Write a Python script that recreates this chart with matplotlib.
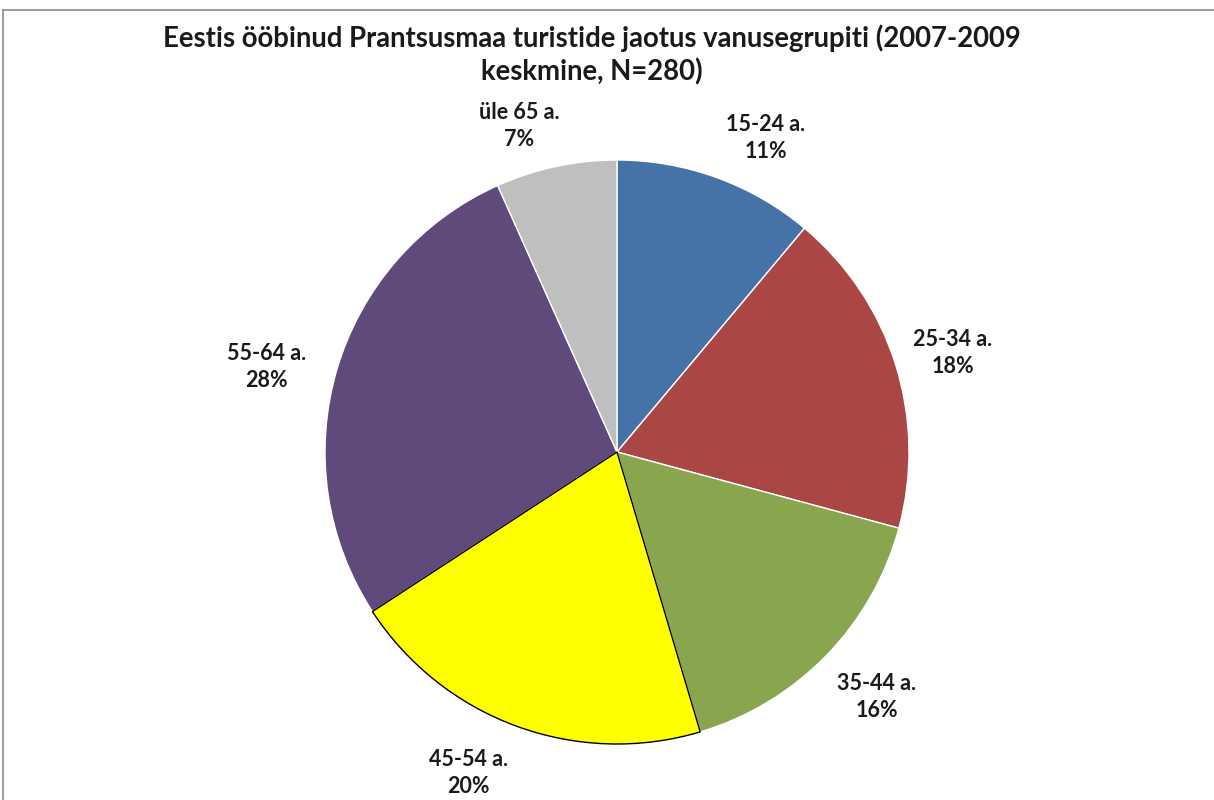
import matplotlib.pyplot as plt
from matplotlib.lines import Line2D

# age groups and shares (%)
groups = ["15-24 a.", "25-34 a.", "35-44 a.", "45-54 a.", "55-64 a.", "üle 65 a."]
shares = [11.1, 18.1, 16.2, 20.4, 27.5, 6.7]
colors = ["#4572A7", "#AA4643", "#89A54E", "#FFFF00", "#604A7B", "#BFBFBF"]

# label placement (in pie radius units), like Excel's outside labels
label_pos = [(0.51, 1.075), (1.15, 0.34), (0.89, -0.84),
             (-0.51, -1.10), (-1.20, 0.29), (-0.335, 1.115)]

plt.rcParams['font.family'] = ['Lato', 'DejaVu Sans']

fig = plt.figure(figsize=(12.14, 8), dpi=100)
cx, cy, R = 617, 452, 292
ax = fig.add_axes([(cx - R) / 1214, (800 - cy - R) / 800, 2 * R / 1214, 2 * R / 800])

labels = [f"{g}\n{round(s)}%" for g, s in zip(groups, shares)]
wedges, texts = ax.pie(shares, labels=labels, colors=colors, startangle=90,
                       counterclock=False, labeldistance=1.2,
                       wedgeprops=dict(edgecolor="white", linewidth=1),
                       textprops=dict(fontsize=15.5, fontweight="bold", color="#1a1a1a",
                                      linespacing=1.35))
wedges[3].set_edgecolor("black")
wedges[3].set_zorder(3)
for t, p in zip(texts, label_pos):
    t.set_position(p)
    t.set_ha("center")
    t.set_va("center")
ax.set_xlim(-1, 1)
ax.set_ylim(-1, 1)
ax.set_aspect("auto")

fig.text(592 / 1214, 1 - 55 / 800,
         "Eestis ööbinud Prantsusmaa turistide jaotus vanusegrupiti (2007-2009\nkeskmine, N=280)",
         ha="center", va="center", fontsize=19.8, fontweight="bold", color="#1a1a1a",
         linespacing=1.3)

# chart frame (cropped on right and bottom)
fig.add_artist(Line2D([3 / 1214, 1], [1 - 10 / 800] * 2, color="#8c8c8c", lw=1.2))
fig.add_artist(Line2D([3 / 1214] * 2, [0, 1 - 10 / 800], color="#8c8c8c", lw=1.2))

fig.savefig("out.png", dpi=100, facecolor="white")
